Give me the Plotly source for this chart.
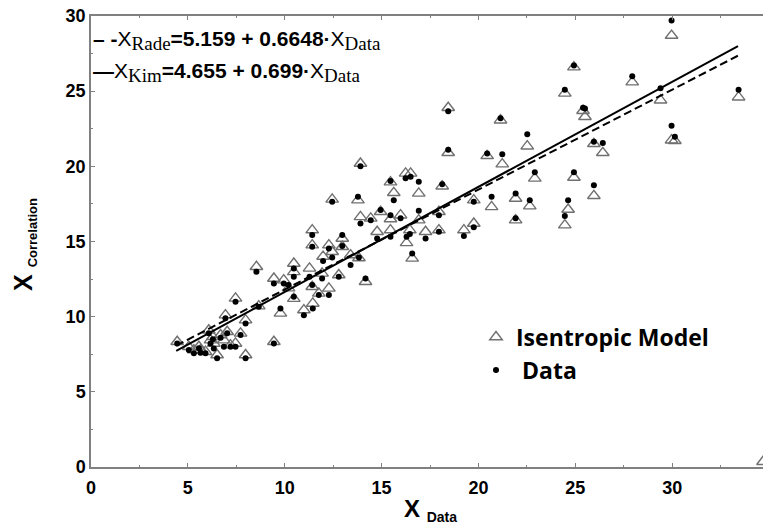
import plotly.graph_objects as go

# ---- data ----
x_data = [29.97, 24.93, 27.94, 24.46, 29.4, 33.43, 18.44, 21.14, 25.5, 25.4,
          22.52, 18.44, 20.45, 21.23, 25.96, 26.42, 29.97, 30.14, 22.91, 24.93,
          25.96, 24.63, 24.46, 22.65, 21.92, 21.92, 20.68, 19.76, 19.76, 19.25,
          17.96, 17.96, 18.13, 16.92, 15.63, 15.46, 16.24, 16.5, 15.98, 16.92,
          15.46, 16.29, 16.58, 17.27, 16.46,
          13.91, 12.45, 13.78, 13.91, 14.44, 14.95, 15.46, 14.77, 12.97, 12.97,
          11.42, 11.42, 12.28, 12.45, 11.98, 13.4, 13.83, 10.47, 10.47, 11.28,
          11.93, 12.79, 14.17, 11.42, 12.28, 11.76, 9.95, 10.47,
          8.54, 9.44, 10.2, 11.45, 10.99, 9.78, 7.46, 8.66, 7.98, 6.94,
          7.72, 9.44, 7.98, 7.46, 6.51, 5.91, 5.31, 4.45, 6.86, 6.34,
          5.57, 7.03, 6.69, 6.08, 6.17, 5.05, 7.2, 5.65, 6.29]

isentropic_y = [28.7, 26.6, 25.6, 24.85, 24.4, 24.6, 23.9, 23.07, 23.3, 23.7,
                21.34, 20.9, 20.7, 20.15, 21.5, 20.9, 21.74, 21.7, 19.2, 19.26,
                18.04, 17.13, 16.09, 17.35, 17.86, 16.42, 17.3, 17.75, 16.2, 15.76,
                15.76, 16.98, 18.68, 18.2, 18.24, 18.95, 19.53, 19.53, 16.75, 16.42,
                15.76, 14.91, 13.88, 15.65, 15.76,
                20.19, 17.8, 17.75, 16.64, 16.54, 16.98, 16.5, 15.65, 15.2, 14.65,
                15.76, 14.76, 14.76, 14.32, 14.0, 14.1, 13.9, 13.54, 12.98, 13.21,
                12.88, 12.77, 12.32, 11.99, 11.88, 11.55, 12.43, 11.2,
                13.32, 12.54, 11.9, 10.88, 10.44, 10.22, 11.22, 10.7, 9.77, 10.1,
                8.89, 8.33, 7.45, 8.22, 7.45, 7.67, 7.78, 8.33, 8.44, 8.22,
                8.0, 9.0, 8.78, 9.1, 8.44, 8.0, 8.11, 7.78, 8.66]

measured_y = [29.7, 26.7, 26.0, 25.1, 25.2, 25.1, 23.67, 23.2, 23.85, 23.9,
              22.14, 21.1, 20.86, 20.8, 21.63, 21.56, 22.7, 21.96, 19.6, 19.6,
              18.75, 17.75, 16.69, 17.75, 18.2, 16.54, 17.97, 17.64, 15.94, 15.36,
              15.65, 16.75, 18.8, 18.97, 17.75, 19.02, 19.2, 19.3, 16.55, 17.04,
              15.31, 15.31, 14.2, 15.2, 15.5,
              20.0, 17.64, 17.97, 16.2, 16.42, 17.09, 16.75, 15.2, 15.43, 14.7,
              15.43, 14.65, 14.54, 13.94, 13.7, 13.43, 13.94, 13.21, 12.65, 12.65,
              12.54, 12.65, 12.54, 12.1, 11.44, 11.44, 12.2, 11.32,
              12.99, 12.21, 12.1, 10.55, 10.1, 10.55, 10.99, 10.66, 9.55, 9.89,
              8.78, 8.22, 7.23, 8.0, 7.23, 7.56, 7.56, 8.22, 8.0, 7.89,
              7.9, 8.9, 8.6, 8.9, 8.22, 7.78, 8.0, 7.6, 8.5]

corner_x = [34.69]
corner_y = [0.35]

fit_x = [4.4, 33.4]
kim_y = [7.73, 28.0]
rade_y = [8.08, 27.36]

x_ticks = [0, 5, 10, 15, 20, 25, 30]
y_ticks = [0, 5, 10, 15, 20, 25, 30]

# ---- figure ----
fig = go.Figure()

fig.add_trace(go.Scatter(
    x=x_data + corner_x, y=isentropic_y + corner_y, mode="markers",
    name="<b>Isentropic Model</b>", legend="legend",
    marker=dict(symbol="triangle-up-open", size=11, color="#707070",
                line=dict(width=1.4, color="#707070"))))

fig.add_trace(go.Scatter(
    x=x_data, y=measured_y, mode="markers",
    name="<b>\u00a0Data</b>", legend="legend2",
    marker=dict(symbol="circle", size=6, color="#000000")))

fig.add_trace(go.Scatter(
    x=fit_x, y=rade_y, mode="lines", showlegend=False,
    line=dict(color="#000000", width=2, dash="8px,4px")))

fig.add_trace(go.Scatter(
    x=fit_x, y=kim_y, mode="lines", showlegend=False,
    line=dict(color="#000000", width=2)))

axis_common = dict(
    showgrid=False, zeroline=False, showline=True,
    linecolor="#808080", linewidth=1.5,
    ticks="inside", ticklen=4, tickwidth=1.2, tickcolor="#808080",
    tickfont=dict(family="Liberation Sans", size=18, color="#000000", weight="bold"),
    minor=dict(dtick=2.5, ticks="inside", ticklen=2, tickcolor="#808080", tickwidth=1),
)

fig.update_xaxes(range=[0, 34.69], tickvals=x_ticks, ticktext=[str(v) for v in x_ticks],
                 mirror="ticks", ticklabelstandoff=4, **axis_common)
fig.update_yaxes(range=[0, 30], tickvals=y_ticks, ticktext=[str(v) for v in y_ticks],
                 mirror=False, **axis_common)

L, T, B = 91, 16, 58
PW, PH = 763 - L, 525 - T - B


def px(xp):
    return (xp - L) / PW


def py(yp):
    return (525 - B - yp) / PH


serif = "font-family:'Liberation Serif';font-size:19px;font-weight:normal"
annots = [
    dict(x=px(91), y=py(40), xanchor="left", yanchor="middle",
         text="<b>– -</b>X<sub><span style=\"" + serif + "\">Rade</span></sub>"
              "<b>=5.159 + 0.6648·</b>X<sub><span style=\"" + serif + "\">Data</span></sub>",
         font=dict(family="Liberation Sans", size=21, color="#000000")),
    dict(x=px(91), y=py(72), xanchor="left", yanchor="middle",
         text="<b>—</b>X<sub><span style=\"" + serif + "\">Kim</span></sub>"
              "<b>=4.655 + 0.699·</b>X<sub><span style=\"" + serif + "\">Data</span></sub>",
         font=dict(family="Liberation Sans", size=21, color="#000000")),
    dict(x=px(430), y=py(510), xanchor="center", yanchor="middle",
         text="<b>X</b> <sub><b><span style=\"font-size:14px\">Data</span></b></sub>",
         font=dict(family="Liberation Sans", size=24, color="#000000")),
    dict(x=px(24), y=py(245), xanchor="center", yanchor="middle", textangle=-90,
         text="<b>X</b> <sub><b><span style=\"font-size:13px\">Correlation</span></b></sub>",
         font=dict(family="Liberation Sans", size=25, color="#000000")),
]
for a in annots:
    a.update(xref="paper", yref="paper", showarrow=False)

legend_font = dict(family="Open Sans", size=23, color="#000000")
fig.update_layout(
    width=763, height=525,
    margin=dict(l=L, r=0, t=T, b=B),
    plot_bgcolor="#ffffff", paper_bgcolor="#ffffff",
    annotations=annots,
    showlegend=True,
    legend=dict(x=px(476), y=py(337), xanchor="left", yanchor="middle",
                bgcolor="rgba(0,0,0,0)", borderwidth=0, font=legend_font,
                itemsizing="trace"),
    legend2=dict(x=px(476), y=py(370), xanchor="left", yanchor="middle",
                 bgcolor="rgba(0,0,0,0)", borderwidth=0, font=legend_font,
                 itemsizing="trace"),
)

fig.write_html("out.html")
